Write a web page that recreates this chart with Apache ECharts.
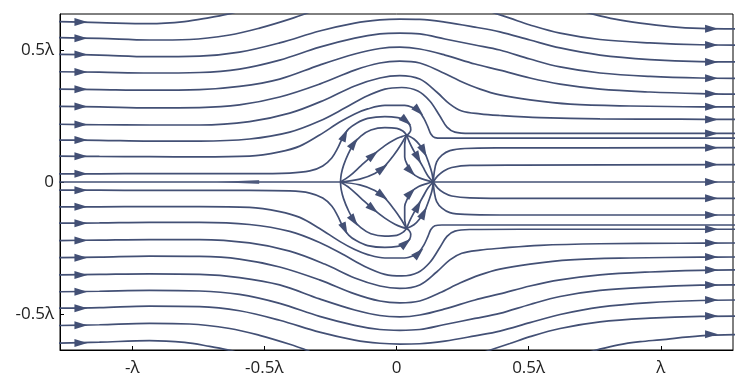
<!DOCTYPE html>
<html><head><meta charset="utf-8">
<script src="https://cdn.jsdelivr.net/npm/echarts@6/dist/echarts.min.js"></script>
<style>html,body{margin:0;padding:0;background:#fff}#c{width:750px;height:389px}</style>
</head><body><div id="c"></div>
<script>
// axis ticks (units of wavelength)
const xTicks = [-1, -0.5, 0, 0.5, 1];
const xTickLabels = ['-λ', '-0.5λ', '0', '0.5λ', 'λ'];
const yTicks = [-0.5, 0, 0.5];
const yTickLabels = ['-0.5λ', '0', '0.5λ'];
const xRange = [-1.2732, 1.2732];
const yRange = [-0.6366, 0.6366];

// streamlines, upper half (x, y in λ)
const u10 = [[-1.294,0.608],[-1.124,0.604],[-0.935,0.600],[-0.802,0.608],[-0.707,0.623],[-0.639,0.636],[-0.594,0.648]];
const u9 = [[-1.294,0.547],[-1.124,0.544],[-0.935,0.538],[-0.783,0.540],[-0.631,0.557],[-0.518,0.583],[-0.404,0.617],[-0.328,0.644]];
const u8 = [[-1.294,0.484],[-1.124,0.481],[-0.935,0.475],[-0.745,0.477],[-0.594,0.492],[-0.442,0.527],[-0.291,0.572],[-0.158,0.602],[-0.063,0.614],[0.0125,0.617],[0.088,0.616],[0.183,0.606],[0.297,0.587],[0.391,0.569],[0.505,0.538],[0.619,0.508],[0.770,0.481],[0.959,0.464],[1.149,0.456],[1.300,0.455]];
const u7 = [[-1.294,0.418],[-1.124,0.416],[-0.935,0.413],[-0.745,0.415],[-0.594,0.428],[-0.442,0.462],[-0.291,0.511],[-0.158,0.545],[-0.063,0.561],[0.0125,0.564],[0.088,0.561],[0.183,0.542],[0.297,0.519],[0.391,0.500],[0.505,0.466],[0.619,0.436],[0.770,0.413],[0.959,0.400],[1.149,0.394],[1.300,0.393]];
const u6 = [[-1.294,0.352],[-1.124,0.350],[-0.935,0.348],[-0.745,0.350],[-0.594,0.362],[-0.442,0.390],[-0.291,0.443],[-0.158,0.485],[-0.063,0.506],[0.0125,0.511],[0.088,0.504],[0.183,0.481],[0.297,0.447],[0.391,0.424],[0.505,0.394],[0.619,0.371],[0.770,0.352],[0.959,0.341],[1.149,0.335],[1.300,0.333]];
const u5 = [[-1.294,0.287],[-1.124,0.285],[-0.935,0.281],[-0.745,0.282],[-0.594,0.292],[-0.442,0.322],[-0.291,0.371],[-0.158,0.424],[-0.063,0.451],[0.0125,0.458],[0.088,0.451],[0.164,0.420],[0.240,0.383],[0.316,0.352],[0.391,0.330],[0.505,0.311],[0.657,0.295],[0.884,0.288],[1.149,0.285],[1.300,0.285]];
const u4 = [[-1.294,0.219],[-1.124,0.217],[-0.935,0.216],[-0.745,0.216],[-0.556,0.229],[-0.404,0.261],[-0.272,0.311],[-0.158,0.364],[-0.063,0.394],[0.0125,0.403],[0.088,0.390],[0.152,0.341],[0.202,0.295],[0.247,0.269],[0.316,0.258],[0.391,0.252],[0.543,0.244],[0.770,0.239],[1.073,0.238],[1.300,0.237]];
const u3 = [[-1.294,0.159],[-1.124,0.158],[-0.935,0.155],[-0.745,0.155],[-0.556,0.163],[-0.404,0.189],[-0.291,0.231],[-0.196,0.280],[-0.120,0.322],[-0.044,0.352],[0.020,0.358],[0.081,0.345],[0.126,0.307],[0.164,0.250],[0.191,0.208],[0.221,0.189],[0.278,0.184],[0.467,0.184],[1.300,0.184]];
const u2 = [[-1.294,0.098],[-1.124,0.097],[-0.935,0.096],[-0.745,0.095],[-0.556,0.098],[-0.442,0.114],[-0.366,0.136],[-0.291,0.178],[-0.215,0.227],[-0.158,0.258],[-0.109,0.277],[-0.044,0.290],[0.031,0.290],[0.062,0.282],[0.084,0.269],[0.103,0.242],[0.119,0.208],[0.130,0.182],[0.145,0.168],[0.172,0.166],[0.278,0.166],[1.300,0.166]];
const u1 = [[-1.294,0.031],[-1.124,0.031],[-0.935,0.032],[-0.556,0.032],[-0.404,0.034],[-0.328,0.042],[-0.279,0.061],[-0.245,0.091],[-0.222,0.129],[-0.204,0.167],[-0.181,0.201],[-0.151,0.223],[-0.109,0.241],[-0.044,0.248],[0.005,0.244],[0.031,0.235],[0.050,0.216],[0.054,0.197],[0.047,0.184],[0.038,0.178]];
const arcB = [[-0.212,0],[-0.209,0.030],[-0.200,0.064],[-0.183,0.106],[-0.162,0.144],[-0.135,0.174],[-0.097,0.197],[-0.044,0.206],[0.001,0.203],[0.024,0.193],[0.038,0.178]];
const arcC = [[-0.212,0],[-0.177,0.023],[-0.135,0.061],[-0.089,0.102],[-0.044,0.138],[-0.006,0.161],[0.020,0.172],[0.038,0.178]];
const arcD = [[-0.212,0],[-0.139,0.011],[-0.082,0.032],[-0.044,0.061],[-0.010,0.102],[0.016,0.140],[0.038,0.178]];
const lensE = [[0.038,0.178],[0.066,0.163],[0.088,0.140],[0.107,0.110],[0.122,0.072],[0.134,0.034],[0.139,0]];
const lensG = [[0.038,0.178],[0.050,0.148],[0.066,0.117],[0.081,0.091],[0.100,0.057],[0.119,0.023],[0.139,0]];
const lensF = [[0.038,0.178],[0.031,0.140],[0.031,0.095],[0.043,0.061],[0.058,0.036],[0.084,0.017],[0.115,0.006],[0.139,0]];
const outA = [[0.139,0],[0.143,0.038],[0.152,0.076],[0.172,0.102],[0.202,0.119],[0.259,0.127],[0.391,0.129],[1.300,0.130]];
const outB = [[0.139,0],[0.156,0.023],[0.179,0.042],[0.209,0.055],[0.278,0.063],[0.467,0.064],[1.300,0.066]];
const r45 = [[0.316,0.659],[0.372,0.640],[0.429,0.621],[0.505,0.595],[0.619,0.564],[0.770,0.540],[0.959,0.527],[1.149,0.520],[1.300,0.519]];
const r29 = [[0.675,0.655],[0.744,0.636],[0.827,0.617],[0.922,0.602],[1.035,0.589],[1.149,0.582],[1.300,0.580]];
const centerLeft = [[-1.300,0],[-0.212,0]];
const centerRight = [[0.139,0],[1.300,0]];

// streamlines, lower half
const l10 = [[-1.294,-0.611],[-1.124,-0.607],[-0.935,-0.601],[-0.802,-0.608],[-0.707,-0.623],[-0.639,-0.636],[-0.594,-0.648]];
const l9 = [[-1.294,-0.544],[-1.124,-0.541],[-0.935,-0.536],[-0.783,-0.538],[-0.631,-0.555],[-0.518,-0.581],[-0.404,-0.615],[-0.328,-0.642]];
const l8 = [[-1.294,-0.478],[-1.124,-0.476],[-0.935,-0.470],[-0.745,-0.472],[-0.594,-0.488],[-0.442,-0.524],[-0.291,-0.569],[-0.158,-0.599],[-0.063,-0.611],[0.0125,-0.614],[0.088,-0.613],[0.183,-0.603],[0.297,-0.583],[0.391,-0.565],[0.505,-0.533],[0.619,-0.502],[0.770,-0.474],[0.959,-0.457],[1.149,-0.449],[1.300,-0.447]];
const l7 = [[-1.294,-0.416],[-1.124,-0.414],[-0.935,-0.411],[-0.745,-0.413],[-0.594,-0.426],[-0.442,-0.460],[-0.291,-0.509],[-0.158,-0.543],[-0.063,-0.559],[0.0125,-0.562],[0.088,-0.559],[0.183,-0.540],[0.297,-0.517],[0.391,-0.498],[0.505,-0.464],[0.619,-0.434],[0.770,-0.411],[0.959,-0.398],[1.149,-0.391],[1.300,-0.390]];
const l6 = [[-1.294,-0.352],[-1.124,-0.350],[-0.935,-0.348],[-0.745,-0.350],[-0.594,-0.362],[-0.442,-0.390],[-0.291,-0.443],[-0.158,-0.485],[-0.063,-0.506],[0.0125,-0.511],[0.088,-0.504],[0.183,-0.481],[0.297,-0.447],[0.391,-0.424],[0.505,-0.394],[0.619,-0.371],[0.770,-0.352],[0.959,-0.341],[1.149,-0.335],[1.300,-0.333]];
const l5 = [[-1.294,-0.287],[-1.124,-0.285],[-0.935,-0.281],[-0.745,-0.282],[-0.594,-0.292],[-0.442,-0.322],[-0.291,-0.371],[-0.158,-0.424],[-0.063,-0.451],[0.0125,-0.458],[0.088,-0.451],[0.164,-0.420],[0.240,-0.383],[0.316,-0.352],[0.391,-0.330],[0.505,-0.311],[0.657,-0.295],[0.884,-0.288],[1.149,-0.285],[1.300,-0.284]];
const l4 = [[-1.294,-0.222],[-1.124,-0.220],[-0.935,-0.218],[-0.745,-0.218],[-0.556,-0.231],[-0.404,-0.262],[-0.272,-0.311],[-0.158,-0.364],[-0.063,-0.394],[0.0125,-0.403],[0.088,-0.390],[0.152,-0.341],[0.202,-0.295],[0.247,-0.270],[0.316,-0.258],[0.391,-0.251],[0.543,-0.240],[0.770,-0.234],[1.073,-0.232],[1.300,-0.231]];
const l3 = [[-1.294,-0.156],[-1.124,-0.155],[-0.935,-0.153],[-0.745,-0.153],[-0.556,-0.161],[-0.404,-0.187],[-0.291,-0.229],[-0.196,-0.278],[-0.120,-0.320],[-0.044,-0.350],[0.020,-0.356],[0.081,-0.343],[0.126,-0.305],[0.164,-0.248],[0.191,-0.206],[0.221,-0.186],[0.278,-0.180],[0.467,-0.179],[1.300,-0.179]];
const l2 = [[-1.294,-0.094],[-1.124,-0.094],[-0.935,-0.093],[-0.745,-0.093],[-0.556,-0.096],[-0.442,-0.112],[-0.366,-0.134],[-0.291,-0.176],[-0.215,-0.225],[-0.158,-0.256],[-0.109,-0.275],[-0.044,-0.288],[0.031,-0.288],[0.062,-0.280],[0.084,-0.267],[0.103,-0.240],[0.119,-0.206],[0.130,-0.180],[0.145,-0.166],[0.172,-0.163],[0.278,-0.163],[1.300,-0.163]];
const l1 = [[-1.294,-0.031],[-1.124,-0.031],[-0.935,-0.032],[-0.556,-0.032],[-0.404,-0.034],[-0.328,-0.042],[-0.279,-0.061],[-0.245,-0.091],[-0.222,-0.129],[-0.204,-0.167],[-0.181,-0.201],[-0.151,-0.223],[-0.109,-0.241],[-0.044,-0.248],[0.005,-0.244],[0.031,-0.235],[0.050,-0.216],[0.054,-0.197],[0.047,-0.183],[0.038,-0.176]];
const arcB2 = [[-0.212,0],[-0.209,-0.030],[-0.200,-0.064],[-0.183,-0.106],[-0.162,-0.144],[-0.135,-0.173],[-0.097,-0.196],[-0.044,-0.205],[0.001,-0.202],[0.024,-0.191],[0.038,-0.176]];
const arcC2 = [[-0.212,0],[-0.177,-0.023],[-0.135,-0.061],[-0.089,-0.102],[-0.044,-0.137],[-0.006,-0.160],[0.020,-0.171],[0.038,-0.176]];
const arcD2 = [[-0.212,0],[-0.139,-0.011],[-0.082,-0.032],[-0.044,-0.061],[-0.010,-0.102],[0.016,-0.139],[0.038,-0.176]];
const lensE2 = [[0.038,-0.176],[0.066,-0.162],[0.088,-0.139],[0.107,-0.109],[0.122,-0.071],[0.134,-0.034],[0.139,0]];
const lensG2 = [[0.038,-0.176],[0.050,-0.147],[0.066,-0.116],[0.081,-0.090],[0.100,-0.056],[0.119,-0.023],[0.139,0]];
const lensF2 = [[0.038,-0.176],[0.031,-0.139],[0.031,-0.094],[0.043,-0.060],[0.058,-0.036],[0.084,-0.017],[0.115,-0.006],[0.139,0]];
const outA2 = [[0.139,0],[0.143,-0.038],[0.152,-0.074],[0.172,-0.099],[0.202,-0.116],[0.259,-0.123],[0.391,-0.125],[1.300,-0.125]];
const outB2 = [[0.139,0],[0.156,-0.023],[0.179,-0.041],[0.209,-0.053],[0.278,-0.060],[0.467,-0.062],[1.300,-0.062]];
const r316 = [[0.316,-0.650],[0.372,-0.631],[0.429,-0.612],[0.505,-0.586],[0.619,-0.555],[0.770,-0.530],[0.959,-0.516],[1.149,-0.509],[1.300,-0.508]];
const r334 = [[0.690,-0.655],[0.759,-0.636],[0.840,-0.617],[0.922,-0.605],[0.997,-0.598],[1.149,-0.583],[1.300,-0.578]];

const streamlines = [u10,u9,u8,u7,u6,u5,u4,u3,u2,u1,arcB,arcC,arcD,lensE,lensG,lensF,outA,outB,r45,r29,centerLeft,centerRight,
  l10,l9,l8,l7,l6,l5,l4,l3,l2,l1,arcB2,arcC2,arcD2,lensE2,lensG2,lensF2,outA2,outB2,r316,r334];

// arrowheads: [x, y, direction in degrees]
const arrowsLeft = [[-1.194,0.606,0],[-1.194,0.545,0],[-1.194,0.483,0],[-1.194,0.417,0],[-1.194,0.351,0],[-1.194,0.286,0],[-1.194,0.218,0],[-1.194,0.159,0],[-1.194,0.098,0],[-1.194,0.031,0],
  [-1.194,-0.031,0],[-1.194,-0.094,0],[-1.194,-0.156,0],[-1.194,-0.222,0],[-1.194,-0.287,0],[-1.194,-0.352,0],[-1.194,-0.416,0],[-1.194,-0.478,0],[-1.194,-0.543,0],[-1.194,-0.610,0]];
const arrowsRight = [[1.192,0.581,0],[1.192,0.519,0],[1.192,0.455,0],[1.192,0.393,0],[1.192,0.334,0],[1.192,0.285,0],[1.192,0.237,0],[1.192,0.184,0],[1.192,0.130,0],[1.192,0.066,0],[1.192,0,0],
  [1.192,-0.062,0],[1.192,-0.125,0],[1.192,-0.179,0],[1.192,-0.231,0],[1.192,-0.284,0],[1.192,-0.333,0],[1.192,-0.390,0],[1.192,-0.447,0],[1.192,-0.508,0],[1.192,-0.577,0]];
const arrowsInner = [[-0.196,0.178,65],[0.037,0.231,-40],[0.084,0.269,-44],[-0.161,0.147,55],[-0.089,0.102,40],[-0.053,0.052,37],[0.103,0.117,-63],[0.081,0.091,-61],[0.054,0.040,-46],
  [-0.196,-0.178,-65],[0.035,-0.231,40],[0.084,-0.269,44],[-0.161,-0.147,-55],[-0.089,-0.102,-40],[-0.053,-0.052,-37],[0.103,-0.117,63],[0.081,-0.091,61],[0.054,-0.040,46]];
const centerWedge = [[-0.599,0,180]];

const LINE = '#435075';
const chart = echarts.init(document.getElementById('c'), null, {renderer: 'canvas'});

const series = streamlines.map(d => ({
  type: 'line', data: d, smooth: 0.35, symbol: 'none', clip: true, silent: true,
  lineStyle: {color: LINE, width: 1.7}, z: 2
}));
const arrowItems = arrowsLeft.concat(arrowsRight, arrowsInner).map(a => ({value: [a[0], a[1]], symbolRotate: a[2] - 90}));
series.push({
  type: 'scatter', data: arrowItems, symbol: 'triangle', symbolSize: [8, 13], silent: true,
  itemStyle: {color: LINE, opacity: 1}, z: 5
});
series.push({
  type: 'scatter', data: centerWedge.map(a => ({value: [a[0], a[1]], symbolRotate: a[2] - 90})),
  symbol: 'triangle', symbolSize: [4, 42], silent: true, itemStyle: {color: LINE}, z: 4
});

const labelFont = {fontFamily: 'Open Sans', fontSize: 17, color: '#222'};
chart.setOption({
  animation: false,
  backgroundColor: '#fff',
  grid: {left: 60, right: 17, top: 14, bottom: 39, show: true, borderColor: '#000', borderWidth: 1, backgroundColor: 'transparent'},
  xAxis: {
    type: 'value', min: xRange[0], max: xRange[1],
    axisLine: {show: true, onZero: false, lineStyle: {color: '#000', width: 1}},
    axisTick: {show: true, inside: true, length: 4, customValues: xTicks, lineStyle: {color: '#000'}},
    axisLabel: Object.assign({margin: 10, customValues: xTicks,
      formatter: v => { const i = xTicks.findIndex(t => Math.abs(t - v) < 1e-6); return i >= 0 ? xTickLabels[i] : ''; }}, labelFont),
    splitLine: {show: false}
  },
  yAxis: {
    type: 'value', min: yRange[0], max: yRange[1],
    axisLine: {show: true, onZero: false, lineStyle: {color: '#000', width: 1}},
    axisTick: {show: true, inside: true, length: 4, customValues: yTicks, lineStyle: {color: '#000'}},
    axisLabel: Object.assign({margin: 6, customValues: yTicks,
      formatter: v => { const i = yTicks.findIndex(t => Math.abs(t - v) < 1e-6); return i >= 0 ? yTickLabels[i] : ''; }}, labelFont),
    splitLine: {show: false}
  },
  series: series
});
</script></body></html>
